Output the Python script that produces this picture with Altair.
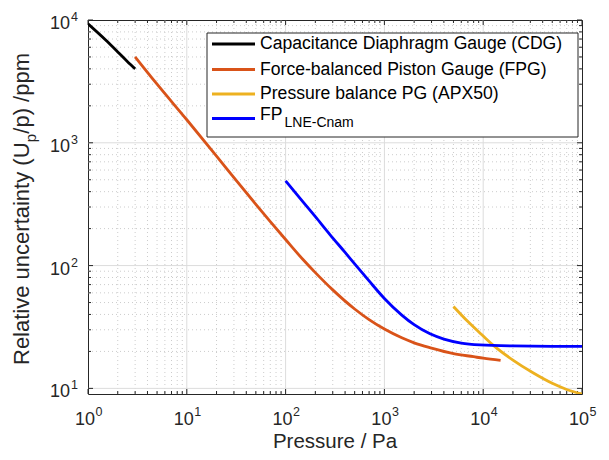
import altair as alt
import pandas as pd

# ---------------- data ----------------
cdg_p = [1, 1.5, 2, 2.5, 3]
cdg_u = [9300, 6900, 5500, 4600, 4000]

fpg_p = [3, 5, 10, 20, 30, 50, 70, 100, 150, 200, 300, 500, 700, 1000, 1500, 2000, 3000, 5000, 8000, 10000, 15000]
fpg_u = [5000, 3000, 1540, 780, 520, 315, 228, 163, 112, 87.6, 63.4, 44.3, 36.3, 30.4, 25.8, 23.5, 21.3, 19.2, 18.1, 17.6, 16.9]

apx_p = [5000, 7000, 10000, 12860, 20000, 31900, 50000, 70000, 100000]
apx_u = [46.5, 35, 26.7, 22.2, 17, 13.4, 11, 9.8, 9.0]

lne_p = [100, 150, 200, 281, 400, 528, 700, 1000, 1500, 2000, 2896, 4000, 6000, 9290, 20000, 50000, 100000]
lne_u = [490, 330, 250, 179, 128, 98, 75, 54, 39.5, 33, 27.8, 25.2, 23.4, 22.6, 22.15, 22, 22]

series_names = ["Capacitance Diaphragm Gauge (CDG)", "Force-balanced Piston Gauge (FPG)",
                "Pressure balance PG (APX50)", "FP"]
series_sub = ["", "", "", "LNE-Cnam"]
series_colors = ["#000000", "#D95319", "#EDB120", "#0000FF"]

x_major = [1, 10, 100, 1000, 10000, 100000]
x_exp = ["0", "1", "2", "3", "4", "5"]
y_major = [10, 100, 1000, 10000]
y_exp = ["1", "2", "3", "4"]
x_minor = [m * 10 ** k for k in range(0, 5) for m in range(2, 10)]
y_minor = [m * 10 ** k for k in range(1, 4) for m in range(2, 10)]

# ---------------- layout ----------------
W, H = 494, 374
FONT = "Liberation Sans"
AX = "#262626"

xs = alt.Scale(type="log", domain=[1, 100000], nice=False)
ys = alt.Scale(type="log", domain=[9, 10000], nice=False)

def X(f):
    return alt.X(f, type="quantitative", scale=xs, axis=None)

def Y(f):
    return alt.Y(f, type="quantitative", scale=ys, axis=None)

layers = []

# grid
gxM = pd.DataFrame({"v": x_major[1:-1]})
gyM = pd.DataFrame({"v": y_major[:-1]})
gxm = pd.DataFrame({"v": x_minor})
gym = pd.DataFrame({"v": y_minor})
layers.append(alt.Chart(gxm).mark_rule(color="#cccccc", strokeWidth=1, strokeDash=[1, 3]).encode(
    x=X("v"), y=alt.value(0), y2=alt.value(H)))
layers.append(alt.Chart(gym).mark_rule(color="#cccccc", strokeWidth=1, strokeDash=[1, 3]).encode(
    y=Y("v"), x=alt.value(0), x2=alt.value(W)))
layers.append(alt.Chart(gxM).mark_rule(color="#dcdcdc", strokeWidth=1).encode(
    x=X("v"), y=alt.value(0), y2=alt.value(H)))
layers.append(alt.Chart(gyM).mark_rule(color="#dcdcdc", strokeWidth=1).encode(
    y=Y("v"), x=alt.value(0), x2=alt.value(W)))

# ticks (inward, all four sides)
txM = pd.DataFrame({"v": x_major})
tyM = pd.DataFrame({"v": y_major})
for df, ln in ((txM, 5), (gxm, 3)):
    layers.append(alt.Chart(df).mark_rule(color=AX, strokeWidth=1).encode(
        x=X("v"), y=alt.value(H), y2=alt.value(H - ln)))
    layers.append(alt.Chart(df).mark_rule(color=AX, strokeWidth=1).encode(
        x=X("v"), y=alt.value(0), y2=alt.value(ln)))
for df, ln in ((tyM, 5), (gym, 3)):
    layers.append(alt.Chart(df).mark_rule(color=AX, strokeWidth=1).encode(
        y=Y("v"), x=alt.value(0), x2=alt.value(ln)))
    layers.append(alt.Chart(df).mark_rule(color=AX, strokeWidth=1).encode(
        y=Y("v"), x=alt.value(W), x2=alt.value(W - ln)))

# data lines
for p, u, c in ((cdg_p, cdg_u, series_colors[0]), (fpg_p, fpg_u, series_colors[1]),
                (apx_p, apx_u, series_colors[2]), (lne_p, lne_u, series_colors[3])):
    df = pd.DataFrame({"p": p, "u": u})
    layers.append(alt.Chart(df).mark_line(color=c, strokeWidth=2.8, clip=True,
                                           interpolate="monotone").encode(
        x=X("p"), y=Y("u")))

# tick labels
xl = pd.DataFrame({"v": x_major, "e": x_exp, "b": ["10"] * len(x_major)})
yl = pd.DataFrame({"v": y_major, "e": y_exp, "b": ["10"] * len(y_major)})
layers.append(alt.Chart(xl).mark_text(font=FONT, fontSize=18, color=AX, align="right",
                                       baseline="alphabetic", dx=7).encode(
    x=X("v"), y=alt.value(H + 30.5), text="b:N"))
layers.append(alt.Chart(xl).mark_text(font=FONT, fontSize=12.5, color=AX, align="left",
                                       baseline="alphabetic", dx=7.5).encode(
    x=X("v"), y=alt.value(H + 21.5), text="e:N"))
layers.append(alt.Chart(yl).mark_text(font=FONT, fontSize=18, color=AX, align="right",
                                       baseline="alphabetic", dy=9).encode(
    y=Y("v"), x=alt.value(-18), text="b:N"))
layers.append(alt.Chart(yl).mark_text(font=FONT, fontSize=12.5, color=AX, align="left",
                                       baseline="alphabetic", dy=1).encode(
    y=Y("v"), x=alt.value(-17), text="e:N"))

one = pd.DataFrame({"a": [0]})

# axis titles
layers.append(alt.Chart(one).mark_text(font=FONT, fontSize=20.5, color=AX, align="center",
                                        baseline="alphabetic", text="Pressure / Pa").encode(
    x=alt.value(W / 2), y=alt.value(H + 53.5)))
TX = -59
y_mid = H / 2 + 2
seg1_w, sub_w, seg3_w = 222.5, 8.8, 80.7
start = y_mid + (seg1_w + sub_w + seg3_w) / 2
layers.append(alt.Chart(one).mark_text(font=FONT, fontSize=22, color=AX, align="left", angle=270,
                                        baseline="alphabetic", text="Relative uncertainty (U").encode(
    x=alt.value(TX), y=alt.value(start)))
layers.append(alt.Chart(one).mark_text(font=FONT, fontSize=15, color=AX, align="left", angle=270,
                                        baseline="alphabetic", text="p").encode(
    x=alt.value(TX + 7), y=alt.value(start - seg1_w - 0.3)))
layers.append(alt.Chart(one).mark_text(font=FONT, fontSize=22, color=AX, align="left", angle=270,
                                        baseline="alphabetic", text="/p) /ppm").encode(
    x=alt.value(TX), y=alt.value(start - seg1_w - sub_w)))

# legend
LX0, LX1, LY0, LY1 = 119, 490, 13, 117
layers.append(alt.Chart(one).mark_rect(fill="white", stroke=AX, strokeWidth=1).encode(
    x=alt.value(LX0), x2=alt.value(LX1), y=alt.value(LY0), y2=alt.value(LY1)))
row_y = [24, 49.5, 74, 98.5]
for i in range(4):
    ty = row_y[i] if not series_sub[i] else row_y[i] - 4
    layers.append(alt.Chart(one).mark_rule(color=series_colors[i], strokeWidth=2.8).encode(
        x=alt.value(124), x2=alt.value(167), y=alt.value(row_y[i]), y2=alt.value(row_y[i])))
    layers.append(alt.Chart(one).mark_text(font=FONT, fontSize=17.6, color="#000000", align="left",
                                            baseline="middle", text=series_names[i]).encode(
        x=alt.value(172), y=alt.value(ty)))
    if series_sub[i]:
        layers.append(alt.Chart(one).mark_text(font=FONT, fontSize=14, color="#000000", align="left",
                                                baseline="middle", text=series_sub[i]).encode(
            x=alt.value(172 + 24.5), y=alt.value(ty + 8)))

chart = alt.layer(*layers).properties(
    width=W, height=H,
    autosize="none",
    padding={"left": 80, "top": 12, "right": 19, "bottom": 58},
).configure_view(stroke=AX, strokeWidth=1)

chart.save("out.html", embed_options={"renderer": "svg", "actions": False})
